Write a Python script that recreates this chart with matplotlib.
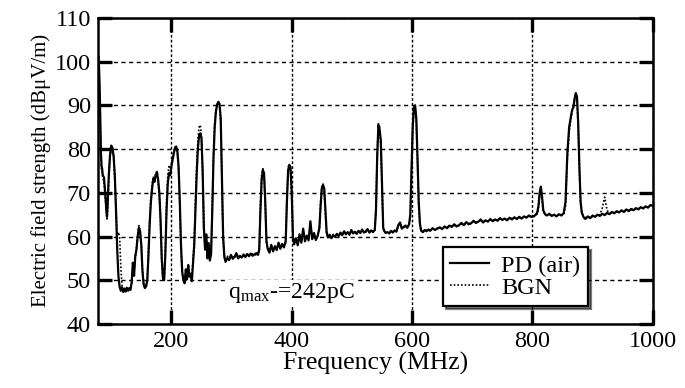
import matplotlib
matplotlib.use("Agg")
import matplotlib.pyplot as plt

# spectrum (MHz, dBuV/m)
freq_mhz = [
    79, 80, 81, 82, 83, 84, 85, 86, 88, 90,
    92, 93, 94, 96, 98, 100, 102, 104, 106, 108,
    110, 112, 114, 116, 118, 120, 122, 124, 126, 128,
    130, 132, 134, 136, 138, 140, 142, 144, 146, 148,
    150, 152, 154, 156, 158, 160, 162, 164, 166, 168,
    170, 172, 174, 176, 178, 180, 182, 184, 186, 188,
    190, 192, 194, 196, 198, 200, 202, 204, 206, 208,
    210, 212, 214, 216, 218, 220, 222, 224, 226, 228,
    230, 232, 234, 236, 238, 240, 242, 244, 246, 248,
    250, 252, 254, 256, 258, 260, 262, 264, 266, 268,
    270, 272, 274, 276, 278, 280, 282, 284, 286, 288,
    290, 293, 296, 299, 302, 305, 308, 311, 314, 317,
    320, 323, 326, 329, 332, 335, 338, 341, 344, 346,
    348, 350, 352, 354, 356, 358, 360, 363, 366, 369,
    372, 375, 378, 381, 384, 387, 390, 392, 394, 396,
    398, 400, 402, 404, 407, 410, 413, 416, 419, 422,
    425, 428, 431, 434, 437, 440, 443, 446, 448, 450,
    452, 454, 456, 458, 460, 463, 466, 469, 472, 475,
    478, 481, 484, 487, 490, 493, 496, 499, 502, 505,
    508, 511, 514, 517, 520, 523, 526, 529, 532, 535,
    538, 540, 542, 544, 546, 548, 550, 552, 554, 556,
    559, 562, 565, 568, 571, 574, 577, 580, 583, 586,
    589, 592, 595, 597, 599, 601, 603, 605, 607, 609,
    611, 613, 615, 618, 621, 624, 627, 630, 634, 638,
    642, 646, 650, 654, 658, 662, 666, 670, 674, 678,
    682, 686, 690, 694, 698, 702, 706, 710, 714, 718,
    722, 726, 730, 734, 738, 742, 746, 750, 754, 758,
    762, 766, 770, 774, 778, 782, 786, 790, 794, 798,
    802, 805, 808, 810, 812, 814, 816, 818, 821, 824,
    828, 832, 836, 840, 844, 848, 852, 855, 858, 861,
    864, 866, 868, 870, 872, 874, 876, 878, 880, 882,
    885, 888, 892, 896, 900, 904, 908, 912, 916, 920,
    924, 928, 932, 936, 940, 944, 948, 952, 956, 960,
    964, 968, 972, 976, 980, 984, 988, 992, 996, 1000,
]

pd_air = [
    101, 98, 93, 86, 79, 76, 75.5, 74, 73.5, 70,
    66, 64.5, 67, 74, 78.5, 80.8, 80.2, 78.5, 74, 66,
    57, 51, 48.5, 47.6, 48.4, 47.3, 48.1, 47.4, 48.3, 47.6,
    48.2, 47.8, 49.5, 54, 51, 55.5, 57, 60, 62, 61.2,
    58, 52, 49, 48.2, 48.6, 50, 56, 63, 68, 71,
    73.2, 72.5, 74, 74.8, 73, 70, 64, 55, 50.5, 50,
    56, 66, 72, 74.5, 74, 76, 77.5, 79, 80.2, 80.6,
    79.5, 76, 68, 58, 52, 50, 49.3, 52.5, 50.2, 53.5,
    50.8, 51.5, 49.8, 54, 58, 66, 74, 80, 83, 83.6,
    82.5, 75, 62, 57, 60.5, 55, 58.5, 54.5, 56, 66,
    78, 85, 88.5, 90.2, 90.8, 90.3, 87, 74, 60, 55.5,
    54.2, 55.1, 54.6, 55.8, 54.9, 55.4, 56.2, 55.0, 55.6, 55.2,
    55.9, 55.3, 56.0, 55.5, 56.1, 55.6, 55.9, 56.2, 55.8, 57,
    66, 73, 75.2, 74.5, 68, 59, 57.2, 56.3, 58.1, 56.6,
    57.8, 56.9, 58.6, 57.2, 58.3, 57.5, 59, 68, 75, 76.4,
    75.8, 70, 60, 58.2, 59.6, 58.0, 60.5, 58.6, 61.8, 58.9,
    60.2, 59.1, 63.5, 59.4, 60.8, 59.2, 60.1, 62, 67, 71,
    71.8, 71, 66, 61, 59.8, 60.4, 59.6, 60.3, 59.9, 60.6,
    60.1, 60.9, 60.3, 61.2, 60.5, 61.0, 60.4, 61.5, 60.7, 61.1,
    60.6, 61.3, 60.8, 61.6, 60.9, 61.2, 61.7, 60.9, 61.4, 61.0,
    61.5, 66, 78, 85.5, 84.5, 82, 72, 62, 61.2, 60.8,
    61.0, 60.7, 61.3, 60.9, 61.4, 61.1, 62.6, 63.2, 61.8, 62.2,
    62.5, 62.0, 62.8, 65, 75, 85, 89.5, 90, 87, 78,
    68, 63, 61.3, 61.0, 61.5, 61.2, 61.6, 61.3, 61.9, 61.5,
    61.8, 62.1, 61.7, 62.3, 61.9, 62.5, 62.2, 62.8, 62.3, 62.6,
    63.1, 62.6, 63.3, 62.8, 63.0, 63.6, 63.1, 63.4, 63.9, 63.2,
    63.7, 63.4, 64.0, 63.5, 63.9, 63.6, 64.2, 63.8, 64.1, 63.7,
    64.3, 63.9, 64.4, 64.0, 64.5, 64.1, 64.6, 64.3, 64.8, 64.5,
    64.6, 64.9, 65.5, 67, 70, 71.4, 69, 66, 65.1, 64.8,
    65.2, 64.7, 65.0, 64.6, 65.1, 64.8, 65.3, 68, 79, 85,
    87.5, 89, 89.5, 91.5, 92.8, 92, 86, 76, 68, 65.5,
    64.4, 64.0, 64.6, 64.2, 64.8, 64.5, 65.0, 64.7, 65.2, 64.9,
    65.4, 65.1, 65.6, 65.3, 65.8, 65.5, 66.0, 65.6, 66.2, 65.8,
    66.3, 66.0, 66.5, 66.2, 66.7, 66.4, 66.9, 66.6, 67.2, 67.0,
]

bgn = [
    100, 97, 91, 84, 78, 75, 74.5, 73.5, 72.5, 69,
    65.5, 64, 66, 73, 78, 80, 80.5, 78, 73, 67,
    60, 61, 60, 53, 48.6, 47.9, 48.3, 47.6, 48.1, 47.9,
    48.0, 48.1, 49.2, 53, 52, 55, 57.5, 60.5, 62.5, 61.5,
    58.5, 52.5, 49.2, 48.5, 48.4, 50.5, 57, 64, 69, 72,
    73.8, 73.0, 74.5, 74.5, 72.5, 69, 63, 54, 50.2, 50.2,
    57, 68, 74, 76, 75.5, 76.5, 78, 79.5, 80.5, 80.2,
    79, 75, 67, 57, 51.5, 49.8, 49.6, 52, 50.5, 52.8,
    51, 51.2, 50.2, 55, 59, 68, 76, 82, 85, 85.5,
    83, 74, 61, 58, 59.5, 55.5, 57.5, 55, 56.5, 68,
    79, 86, 89, 90, 90.4, 89.8, 86, 72, 59, 55.2,
    54.6, 55.5, 55.0, 55.3, 55.4, 55.0, 55.8, 55.4, 55.2, 55.7,
    55.5, 55.8, 55.6, 55.9, 55.7, 56.0, 55.7, 55.9, 56.1, 57.5,
    67, 74, 75.5, 74, 67, 58.5, 57.5, 56.8, 57.6, 57.0,
    57.5, 57.3, 58.2, 57.6, 58.0, 57.8, 58.6, 69, 76, 76,
    75, 69, 59.5, 58.6, 59.2, 58.3, 60.0, 59.0, 61.0, 59.3,
    60.0, 59.5, 62.5, 59.8, 60.5, 59.6, 60.4, 61.5, 68, 71.5,
    72, 70.5, 65, 60.5, 60.1, 60.2, 59.9, 60.5, 60.2, 60.4,
    60.4, 60.6, 60.6, 60.9, 60.8, 60.8, 60.7, 61.2, 61.0, 60.9,
    60.9, 61.1, 61.0, 61.3, 61.2, 61.0, 61.4, 61.2, 61.2, 61.3,
    61.3, 67, 79, 85.8, 85, 81, 71, 61.8, 61.0, 61.0,
    60.8, 60.9, 61.1, 61.1, 61.2, 61.3, 62.3, 62.8, 62.0, 62.0,
    62.3, 62.2, 62.6, 64.5, 74, 84, 89, 89.6, 86.5, 77,
    67, 62.5, 61.5, 61.2, 61.3, 61.4, 61.4, 61.5, 61.7, 61.7,
    61.9, 61.9, 61.9, 62.1, 62.1, 62.3, 62.4, 62.5, 62.5, 62.5,
    62.8, 62.8, 63.0, 63.0, 63.2, 63.3, 63.3, 63.4, 63.6, 63.4,
    63.5, 63.6, 63.8, 63.7, 63.8, 63.8, 64.0, 64.0, 64.0, 63.9,
    64.1, 64.1, 64.2, 64.2, 64.3, 64.3, 64.4, 64.5, 64.6, 64.6,
    64.7, 64.8, 65.2, 66.5, 69.5, 71, 68.5, 65.8, 65.0, 64.9,
    65.0, 64.9, 64.9, 64.8, 64.9, 65.0, 65.1, 67, 78, 84,
    87, 88.5, 89.8, 91.2, 92.2, 91.5, 85, 75, 67.5, 65.2,
    64.6, 64.3, 64.4, 64.4, 64.6, 64.7, 64.8, 65.0, 66.5, 69,
    66.0, 65.3, 65.4, 65.5, 65.6, 65.7, 65.8, 65.8, 66.0, 66.0,
    66.1, 66.2, 66.3, 66.4, 66.5, 66.6, 66.7, 66.8, 67.0, 67.1,
]

x_ticks = [200, 400, 600, 800, 1000]
y_ticks = [40, 50, 60, 70, 80, 90, 100, 110]

plt.rcParams["font.family"] = ["Liberation Serif", "DejaVu Serif"]
plt.rcParams["mathtext.fontset"] = "stix"

fig = plt.figure(figsize=(6.85, 3.88), dpi=100)
ax = fig.add_axes([0.143, 0.165, 0.81, 0.789])

bgn_line, = ax.plot(freq_mhz, bgn, color="black", lw=1.2, ls=(0, (1, 1.2)), label="BGN", zorder=3)
pd_line, = ax.plot(freq_mhz, pd_air, color="black", lw=1.6, label="PD (air)", zorder=4)

ax.set_xlim(78, 1000)
ax.set_ylim(40, 110)
ax.set_xticks(x_ticks)
ax.set_yticks(y_ticks)

ax.xaxis.grid(True, color="black", lw=1.0, ls=(0, (2, 1.5)))
ax.yaxis.grid(True, color="black", lw=1.0, ls=(0, (3, 2.5)))
ax.set_axisbelow(True)

ax.tick_params(direction="in", length=10, width=2.4, top=True, right=True,
               labelsize=17.5, pad=5)
for s in ax.spines.values():
    s.set_linewidth(1.8)

ax.set_xlabel("Frequency (MHz)", fontsize=18.5, labelpad=0)
ax.set_ylabel("Electric field strength (dBμV/m)", fontsize=15, labelpad=3)

ax.text(294, 47.1, r"q$_{\mathregular{max}}$-=242pC", fontsize=17, va="center", ha="left",
        bbox=dict(fc="white", ec="none", pad=1), zorder=5)

leg = ax.legend(handles=[pd_line, bgn_line], loc="lower left", bbox_to_anchor=(0.622, 0.059),
                fontsize=17.5, frameon=True, fancybox=False, edgecolor="black", framealpha=1,
                shadow={"color": "black"}, borderpad=0.3, handlelength=1.6,
                handletextpad=0.5, labelspacing=0.0, borderaxespad=0)
leg.get_frame().set_linewidth(1.6)
leg.set_zorder(6)

fig.savefig("out.png", dpi=100)
